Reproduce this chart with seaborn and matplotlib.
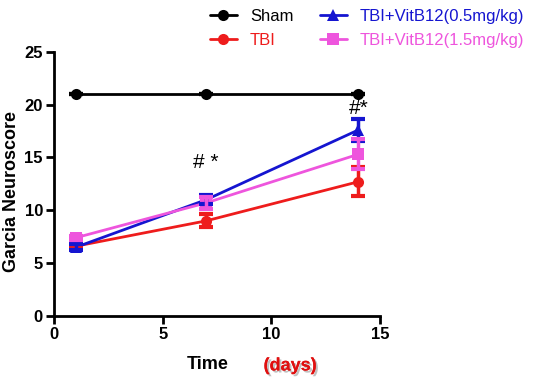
import matplotlib
matplotlib.use("Agg")
import matplotlib.pyplot as plt
import matplotlib.patheffects as pe
import seaborn as sns
import pandas as pd

# days of measurement
days = [1, 7, 14]

# group means (Garcia neuroscore) and SEM
sham_mean = [21.0, 21.0, 21.0]
sham_err = [0.0, 0.0, 0.0]
tbi_mean = [6.6, 9.0, 12.7]
tbi_err = [0.2, 0.6, 1.35]
b12_low_mean = [6.5, 11.0, 17.6]
b12_low_err = [0.3, 0.45, 1.0]
b12_high_mean = [7.4, 10.7, 15.3]
b12_high_err = [0.2, 0.6, 1.4]

groups = ["Sham", "TBI", "TBI+VitB12(0.5mg/kg)", "TBI+VitB12(1.5mg/kg)"]
colors = ["#000000", "#ee1c1c", "#1515d0", "#ee55dd"]
markers = ["o", "o", "^", "s"]

means = [sham_mean, tbi_mean, b12_low_mean, b12_high_mean]
errs = [sham_err, tbi_err, b12_low_err, b12_high_err]

df = pd.DataFrame({
    "day": days * len(groups),
    "score": sum(means, []),
    "err": sum(errs, []),
    "group": [g for g in groups for _ in days],
})

sns.set_style("ticks", {"text.color": "black", "axes.labelcolor": "black",
                        "xtick.color": "black", "ytick.color": "black",
                        "axes.edgecolor": "black"})
plt.rcParams["font.family"] = ["Liberation Sans", "DejaVu Sans"]

fig = plt.figure(figsize=(5.49, 3.92), dpi=100)
ax = fig.add_axes([0.0984, 0.194, 0.594, 0.674])

sns.lineplot(
    data=df, x="day", y="score", hue="group", style="group",
    palette=dict(zip(groups, colors)), markers=dict(zip(groups, markers)),
    dashes=False, markersize=8, linewidth=2, markeredgewidth=0,
    errorbar=None, ax=ax,
)

# error bars (mean +/- SEM)
for g, c in zip(groups, colors):
    sub = df[df["group"] == g]
    ax.errorbar(sub["day"], sub["score"], yerr=sub["err"], fmt="none",
                ecolor=c, elinewidth=2.5, capsize=5, capthick=3, zorder=3)

ax.set_xlim(0, 15)
ax.set_ylim(0, 25)
ax.set_xticks([0, 5, 10, 15])
ax.set_yticks([0, 5, 10, 15, 20, 25])
sns.despine(ax=ax)
for s in ["left", "bottom"]:
    ax.spines[s].set_linewidth(2)
ax.tick_params(width=2, length=6, labelsize=12, pad=2, colors="black")
for lbl in ax.get_xticklabels() + ax.get_yticklabels():
    lbl.set_fontweight("bold")

ax.set_xlabel("Time", fontsize=13, fontweight="bold")
ax.xaxis.set_label_coords(0.47, -0.15)
ax.set_ylabel("Garcia Neuroscore", fontsize=13, fontweight="bold")
ax.yaxis.set_label_coords(-0.105, 0.47)
fig.text(0.48, 0.055, "(days)", color="#e01010", fontsize=13, fontweight="bold",
         path_effects=[pe.withSimplePatchShadow(offset=(1.5, -1.5), shadow_rgbFace="#999999", alpha=0.6),
                       pe.Normal()])

# significance marks
ax.text(7, 14.5, "# *", ha="center", va="center", fontsize=15)
ax.text(14, 19.6, "#*", ha="center", va="center", fontsize=15)

handles, labels = ax.get_legend_handles_labels()
leg = fig.legend(handles, labels, loc="upper left", bbox_to_anchor=(0.355, 1.015),
                 ncol=2, frameon=False, fontsize=12, handlelength=1.6,
                 columnspacing=1.6, handletextpad=0.8, labelspacing=0.55)
ax.get_legend().remove()
for t, c in zip(leg.get_texts(), colors):
    t.set_color(c)

fig.savefig("out.png", dpi=100)
